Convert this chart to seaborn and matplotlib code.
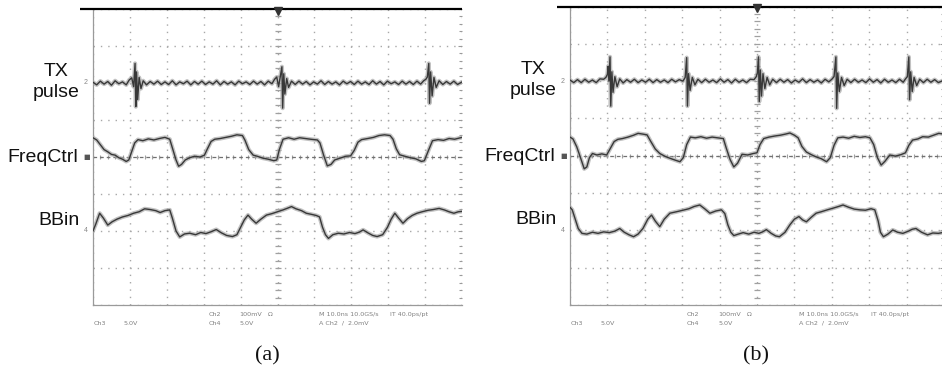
import numpy as np
import matplotlib
matplotlib.use("Agg")
import matplotlib.pyplot as plt
import seaborn as sns
from matplotlib.ticker import MultipleLocator

# ---------------- data (screen divisions: x 0..10, y 0..8) ----------------
tx_a_t = [0.00,0.10,0.20,0.30,0.40,0.50,0.60,0.70,0.80,0.90,
          0.98,1.05,1.10,1.14,1.16,1.18,1.21,1.25,1.30,1.36,
          1.45,1.55,1.65,1.75,1.85,1.95,2.05,2.15,2.25,2.35,2.45,2.55,2.65,2.75,2.85,2.95,
          3.05,3.15,3.25,3.35,3.45,3.55,3.65,3.75,3.85,3.95,4.05,4.15,4.25,4.35,4.45,4.55,4.65,4.75,4.85,
          4.92,4.98,5.03,5.08,5.12,5.14,5.17,5.20,5.25,5.30,5.38,
          5.48,5.58,5.68,5.78,5.88,5.98,6.08,6.18,6.28,6.38,6.48,6.58,6.68,6.78,6.88,6.98,
          7.08,7.18,7.28,7.38,7.48,7.58,7.68,7.78,7.88,7.98,8.08,8.18,8.28,8.38,8.48,8.58,8.68,8.78,8.88,
          8.96,9.02,9.06,9.10,9.12,9.15,9.19,9.24,9.30,9.38,
          9.48,9.58,9.68,9.78,9.88,10.0]
tx_a_v = [6.02,5.95,6.05,5.97,6.04,5.94,6.06,5.98,6.03,5.95,
          6.08,6.14,5.90,6.53,5.36,6.30,5.55,6.15,5.85,6.06,
          5.95,6.04,5.97,6.05,5.96,6.03,5.96,6.06,5.95,6.03,5.98,6.05,5.95,6.04,5.97,6.05,
          5.96,6.03,5.97,6.06,5.95,6.04,5.97,6.03,5.95,6.05,5.98,6.03,5.96,6.05,5.97,6.04,5.95,6.05,5.98,
          6.10,6.16,5.90,6.20,6.44,5.32,6.25,5.70,6.12,5.88,6.05,
          5.96,6.05,5.97,6.04,5.95,6.03,5.97,6.06,5.96,6.04,5.97,6.03,5.95,6.05,5.98,6.04,
          5.96,6.05,5.97,6.03,5.96,6.06,5.97,6.04,5.95,6.05,5.98,6.03,5.96,6.05,5.97,6.04,5.96,6.05,5.97,
          6.06,6.10,6.16,6.53,5.45,6.30,5.65,6.15,5.88,6.06,
          5.96,6.04,5.97,6.05,5.96,6.03]

fc_a_t = [0.00,0.10,0.20,0.30,0.40,0.50,0.60,0.70,0.80,0.90,0.97,1.05,1.13,1.22,1.35,1.50,1.65,1.80,1.95,
          2.08,2.15,2.25,2.32,2.40,2.50,2.62,2.75,2.90,3.02,3.10,3.20,3.30,3.45,3.60,3.75,3.90,
          4.05,4.12,4.22,4.34,4.45,4.60,4.75,4.90,4.98,5.05,5.15,5.30,5.45,5.60,5.75,5.90,
          6.08,6.15,6.25,6.35,6.45,6.55,6.70,6.85,6.98,7.08,7.18,7.28,7.45,7.60,7.75,7.90,
          8.05,8.13,8.22,8.31,8.45,8.60,8.75,8.90,8.98,9.08,9.20,9.35,9.50,9.65,9.80,10.0]
fc_a_v = [4.52,4.46,4.33,4.20,4.14,4.07,4.05,3.98,3.94,3.88,3.92,4.15,4.38,4.47,4.44,4.49,4.46,4.50,4.53,
          4.48,4.25,3.92,3.75,3.80,3.92,3.98,4.02,4.00,4.05,4.22,4.42,4.48,4.50,4.53,4.56,4.60,
          4.58,4.45,4.20,4.05,4.02,3.97,3.94,3.90,3.92,4.20,4.48,4.52,4.48,4.52,4.50,4.48,
          4.46,4.38,4.05,3.76,3.80,3.92,3.97,4.02,4.03,4.18,4.40,4.47,4.50,4.53,4.58,4.60,
          4.58,4.48,4.22,4.06,4.02,3.98,3.95,3.88,3.90,4.15,4.44,4.47,4.45,4.50,4.48,4.53]

bb_a_t = [0.00,0.08,0.18,0.28,0.40,0.52,0.65,0.80,0.95,1.10,1.25,1.40,1.55,1.70,1.82,1.95,2.08,
          2.15,2.25,2.35,2.48,2.62,2.78,2.92,3.06,3.20,3.34,3.48,3.62,3.78,3.90,4.00,4.10,4.20,
          4.30,4.42,4.55,4.70,4.85,5.00,5.15,5.28,5.38,5.50,5.65,5.78,5.92,6.05,6.14,6.22,6.30,
          6.38,6.50,6.65,6.80,6.95,7.10,7.22,7.32,7.45,7.58,7.70,7.85,7.98,8.08,8.18,8.28,8.40,
          8.52,8.65,8.78,8.92,9.08,9.22,9.38,9.52,9.65,9.78,9.90,10.0]
bb_a_v = [2.00,2.20,2.48,2.35,2.16,2.25,2.32,2.38,2.42,2.48,2.52,2.60,2.58,2.55,2.50,2.55,2.57,
          2.35,2.00,1.84,1.92,1.94,1.90,1.96,1.93,1.98,2.04,1.95,1.88,1.85,1.90,2.10,2.30,2.43,
          2.32,2.21,2.32,2.43,2.47,2.52,2.57,2.62,2.66,2.60,2.55,2.48,2.45,2.42,2.38,2.10,1.90,
          1.80,1.90,1.94,1.92,1.96,1.93,1.97,2.03,1.95,1.88,1.85,1.90,2.10,2.32,2.48,2.35,2.21,
          2.33,2.42,2.48,2.52,2.56,2.58,2.61,2.57,2.52,2.48,2.52,2.53]

tx_b_t = [0.00,0.10,0.20,0.30,0.40,0.50,0.60,0.70,0.80,0.90,
          0.96,1.00,1.02,1.04,1.07,1.09,1.12,1.15,1.20,1.26,1.33,
          1.42,1.52,1.62,1.72,1.82,1.92,2.02,2.12,2.22,2.32,2.42,2.52,2.62,2.72,2.82,2.92,
          3.02,3.08,3.12,3.14,3.17,3.21,3.27,3.34,3.42,
          3.52,3.62,3.72,3.82,3.92,4.02,4.12,4.22,4.32,4.42,4.52,4.62,4.72,4.82,4.92,
          4.98,5.01,5.04,5.06,5.09,5.12,5.16,5.21,5.27,5.34,5.42,
          5.52,5.62,5.72,5.82,5.92,6.02,6.12,6.22,6.32,6.42,6.52,6.62,6.72,6.82,6.92,
          7.00,7.06,7.11,7.13,7.16,7.20,7.26,7.33,7.41,
          7.51,7.61,7.71,7.81,7.91,8.01,8.11,8.21,8.31,8.41,8.51,8.61,8.71,8.81,8.91,
          8.97,9.02,9.06,9.08,9.11,9.15,9.20,9.27,9.35,
          9.45,9.55,9.65,9.75,9.85,10.0]
tx_b_v = [6.03,5.96,6.04,5.96,6.05,5.97,6.03,5.96,6.06,6.05,
          6.10,6.18,6.40,6.00,6.65,5.33,6.25,5.70,6.12,5.85,6.06,
          5.95,6.04,5.97,6.05,5.96,6.03,5.97,6.05,5.96,6.04,5.97,6.03,5.96,6.05,5.98,6.04,
          6.00,6.10,6.63,5.33,6.20,5.75,6.10,5.90,6.05,
          5.96,6.05,5.97,6.03,5.96,6.06,5.97,6.04,5.95,6.05,5.97,6.03,5.96,6.05,6.04,
          6.12,6.22,6.65,5.45,6.30,5.60,6.20,5.80,6.10,5.90,6.05,
          5.96,6.05,5.97,6.04,5.95,6.03,5.97,6.06,5.96,6.04,5.97,6.03,5.95,6.05,5.98,
          6.05,6.12,6.65,5.27,6.22,5.72,6.10,5.88,6.05,
          5.96,6.05,5.97,6.03,5.96,6.06,5.97,6.04,5.95,6.05,5.97,6.03,5.96,6.05,5.97,
          6.06,6.12,6.65,5.50,6.25,5.72,6.10,5.88,6.05,
          5.96,6.05,5.97,6.04,5.96,6.03]

fc_b_t = [0.00,0.08,0.18,0.28,0.38,0.45,0.52,0.60,0.72,0.85,0.98,1.08,1.18,1.28,1.40,1.55,1.70,1.82,1.95,
          2.06,2.15,2.28,2.40,2.55,2.68,2.82,2.94,3.03,3.12,3.22,3.35,3.50,3.65,3.80,3.95,
          4.10,4.18,4.28,4.38,4.48,4.60,4.75,4.90,5.00,5.08,5.18,5.32,5.48,5.62,5.76,5.88,
          6.00,6.10,6.20,6.32,6.45,6.58,6.72,6.86,6.96,7.06,7.16,7.30,7.45,7.60,7.75,7.90,
          8.02,8.12,8.22,8.32,8.42,8.55,8.70,8.85,8.97,9.06,9.16,9.30,9.43,9.58,9.72,9.86,10.0]
fc_b_v = [4.50,4.45,4.24,3.95,3.65,3.70,3.95,4.06,4.02,4.05,4.02,4.20,4.38,4.44,4.46,4.50,4.55,4.60,4.58,
          4.56,4.40,4.18,4.06,3.98,3.93,3.88,3.84,3.95,4.30,4.50,4.48,4.51,4.47,4.50,4.48,
          4.46,4.20,3.90,3.70,3.80,4.04,4.02,4.06,4.08,4.30,4.46,4.50,4.53,4.55,4.58,4.61,
          4.55,4.48,4.25,4.10,4.03,3.97,3.92,3.84,3.95,4.28,4.48,4.50,4.47,4.52,4.49,4.51,
          4.48,4.30,3.95,3.75,3.85,4.02,3.99,4.03,4.08,4.28,4.42,4.45,4.51,4.50,4.55,4.60,4.58]

bb_b_t = [0.00,0.06,0.14,0.22,0.32,0.45,0.60,0.75,0.90,1.05,1.20,1.33,1.45,1.58,1.70,1.82,1.95,
          2.08,2.18,2.28,2.40,2.52,2.67,2.85,3.02,3.18,3.32,3.47,3.60,3.74,3.90,4.05,4.14,4.22,
          4.30,4.38,4.50,4.63,4.78,4.92,5.05,5.15,5.25,5.38,5.50,5.60,5.75,5.88,6.00,6.12,6.22,
          6.32,6.45,6.58,6.72,6.88,7.05,7.18,7.30,7.45,7.60,7.75,7.90,8.05,8.15,8.24,8.30,8.38,
          8.50,8.63,8.76,8.90,9.05,9.15,9.25,9.40,9.56,9.70,9.85,10.0]
bb_b_v = [2.62,2.55,2.30,2.05,1.92,1.90,1.95,1.92,1.96,1.94,1.98,2.05,1.95,1.88,1.83,1.90,2.05,
          2.30,2.41,2.25,2.10,2.30,2.46,2.50,2.54,2.58,2.64,2.68,2.58,2.46,2.52,2.55,2.45,2.15,
          1.95,1.86,1.90,1.94,1.90,1.95,1.92,1.96,2.02,1.92,1.85,1.83,1.95,2.15,2.30,2.37,2.28,
          2.23,2.35,2.46,2.50,2.55,2.60,2.64,2.68,2.62,2.57,2.55,2.54,2.58,2.55,2.25,1.95,1.83,
          1.90,2.01,1.95,1.92,1.98,2.03,2.05,1.95,1.88,1.93,1.92,1.95]

trace_names = ["TX", "pulse", "FreqCtrl", "BBin"]
info_row1 = ["Ch2", "100mV", "Ω", "M 10.0ns 10.0GS/s", "IT 40.0ps/pt"]
info_row2 = ["Ch3", "5.0V", "Ch4", "5.0V", "A Ch2  /  2.0mV"]
panel_labels = ["(a)", "(b)"]

# ---------------- style ----------------
sns.set_style("white")
plt.rcParams["font.family"] = ["Liberation Sans", "DejaVu Sans"]

W, H = 942, 372
fig = plt.figure(figsize=(W / 100, H / 100), dpi=100)
fig.patch.set_facecolor("white")

axA = fig.add_axes([93 / W, 67 / H, 369 / W, 296 / H])
axB = fig.add_axes([570 / W, 67 / H, 374 / W, 298.5 / H])

PX = 0.72  # points per pixel


def draw_screen(ax, traces, label, label_x):
    ax.set_xlim(0, 10)
    ax.set_ylim(0, 8)
    ax.set_facecolor("white")
    ax.xaxis.set_major_locator(MultipleLocator(1))
    ax.yaxis.set_major_locator(MultipleLocator(1))
    ax.xaxis.set_minor_locator(MultipleLocator(0.2))
    ax.yaxis.set_minor_locator(MultipleLocator(0.2))
    ax.tick_params(which="both", direction="in", color="#9a9a9a", width=0.8,
                   labelbottom=False, labelleft=False, right=True, top=False)
    ax.tick_params(which="minor", length=2.5)
    ax.tick_params(which="major", length=3)
    ax.grid(True, which="major", color="#a8a8a8", linewidth=1.0,
            linestyle=(0, (1.0, 4.3)))
    for s in ["top", "right"]:
        ax.spines[s].set_visible(False)
    for s in ["left", "bottom"]:
        ax.spines[s].set_color("#9a9a9a")
        ax.spines[s].set_linewidth(0.9)

    # centre graticule ticks
    ctick = np.arange(0.2, 8.0, 0.2)
    ax.plot(np.full_like(ctick, 5.0), ctick, ls="none", marker="_", ms=4.5,
            mew=0.9, color="#a0a0a0", zorder=1)
    htick = np.arange(0.2, 10.0, 0.2)
    ax.plot(htick, np.full_like(htick, 4.0), ls="none", marker="|", ms=3.5,
            mew=0.8, color="#a0a0a0", zorder=1)
    ax.axhline(4.0, color="#707070", linewidth=0.9, linestyle=(0, (2.9, 2.4)), zorder=1)

    # top bezel line and trigger marker
    ax.plot([-0.35, 10.0], [8.0, 8.0], color="black", linewidth=1.6,
            clip_on=False, zorder=5, solid_capstyle="butt")
    ax.plot([5.0], [7.95], marker="v", ms=6, color="#333333", clip_on=False, zorder=6)

    # traces
    for t, v in traces:
        sns.lineplot(x=t, y=v, ax=ax, color="#a8a8a8", linewidth=3.0, alpha=0.7,
                     sort=False, estimator=None, zorder=3)
        sns.lineplot(x=t, y=v, ax=ax, color="#383838", linewidth=1.0,
                     sort=False, estimator=None, zorder=4)

    # channel markers at left
    ax.annotate("2", xy=(0, 6.0), xycoords=("axes fraction", "data"),
                xytext=(-5 * PX, 0), textcoords="offset points",
                ha="right", va="center", fontsize=5, color="#888888")
    ax.annotate("■", xy=(0, 4.0), xycoords=("axes fraction", "data"),
                xytext=(-3 * PX, 0), textcoords="offset points",
                ha="right", va="center", fontsize=5, color="#555555",
                family=["DejaVu Sans"])
    ax.annotate("4", xy=(0, 2.0), xycoords=("axes fraction", "data"),
                xytext=(-5 * PX, 0), textcoords="offset points",
                ha="right", va="center", fontsize=5, color="#888888")

    # trace names
    fs = 14
    ax.annotate(trace_names[0], xy=(0, 6.2), xycoords=("axes fraction", "data"),
                xytext=(-37 * PX, 0), textcoords="offset points",
                ha="center", va="baseline", fontsize=fs, color="#111111")
    ax.annotate(trace_names[1], xy=(0, 5.63), xycoords=("axes fraction", "data"),
                xytext=(-37 * PX, 0), textcoords="offset points",
                ha="center", va="baseline", fontsize=fs, color="#111111")
    ax.annotate(trace_names[2], xy=(0, 3.86), xycoords=("axes fraction", "data"),
                xytext=(-15 * PX, 0), textcoords="offset points",
                ha="right", va="baseline", fontsize=fs, color="#111111")
    ax.annotate(trace_names[3], xy=(0, 2.17), xycoords=("axes fraction", "data"),
                xytext=(-13 * PX, 0), textcoords="offset points",
                ha="right", va="baseline", fontsize=fs, color="#111111")

    # scope readout text
    row1_x = [3.12, 3.97, 4.73, 6.12, 8.05]
    row2_x = [0.02, 0.82, 3.12, 3.97, 6.12]
    for s, x in zip(info_row1, row1_x):
        ax.text(x, -0.25, s, fontsize=4.6, color="#808080", ha="left", va="center",
                clip_on=False, family=["DejaVu Sans"])
    for s, x in zip(info_row2, row2_x):
        ax.text(x, -0.49, s, fontsize=4.6, color="#808080", ha="left", va="center",
                clip_on=False, family=["DejaVu Sans"])

    fig.text(label_x / W, 1 - 356 / H, label, ha="center", va="center",
             fontsize=16, color="#111111", family=["Liberation Serif", "DejaVu Serif"])


draw_screen(axA, [(tx_a_t, tx_a_v), (fc_a_t, fc_a_v), (bb_a_t, bb_a_v)], panel_labels[0], 267)
draw_screen(axB, [(tx_b_t, tx_b_v), (fc_b_t, fc_b_v), (bb_b_t, bb_b_v)], panel_labels[1], 756)

fig.savefig("out.png", dpi=100, facecolor="white")
